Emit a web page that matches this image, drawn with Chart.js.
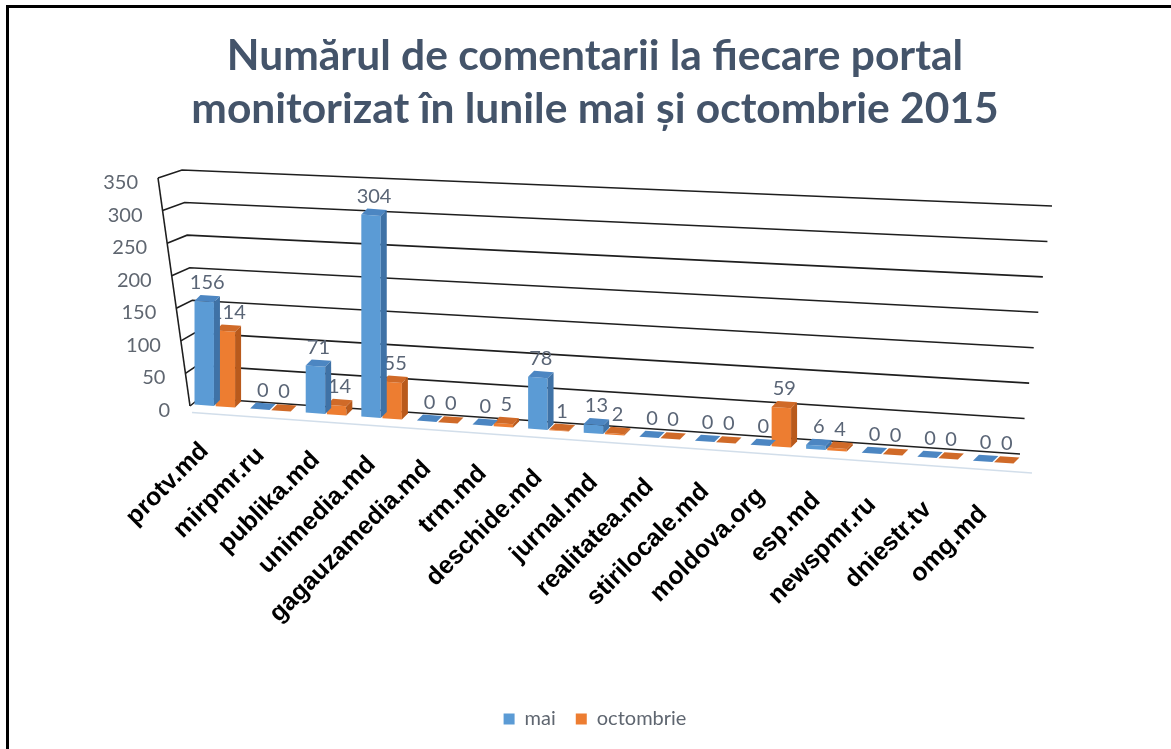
<!DOCTYPE html>
<html><head><meta charset="utf-8">
<script src="https://cdn.jsdelivr.net/npm/chart.js@4.4.0/dist/chart.umd.min.js"></script>
<style>
html,body{margin:0;padding:0;background:#fff;}
#wrap{position:relative;width:1171px;height:749px;overflow:hidden;background:#fff;}
#frame{position:absolute;left:6px;top:5px;right:-10px;bottom:-10px;border-top:3px solid #000;border-left:3px solid #000;pointer-events:none;}
canvas{display:block;}
</style></head><body>
<div id="wrap"><canvas id="c" width="1171" height="749"></canvas><div id="frame"></div></div>
<script>
// ---- data ----
const categories = ['protv.md','mirpmr.ru','publika.md','unimedia.md','gagauzamedia.md','trm.md','deschide.md','jurnal.md','realitatea.md','stirilocale.md','moldova.org','esp.md','newspmr.ru','dniestr.tv','omg.md'];
const maiValues = [156,0,71,304,0,0,78,13,0,0,0,6,0,0,0];
const octValues = [114,0,14,55,0,5,1,2,0,0,59,4,0,0,0];
const seriesNames = ['mai','octombrie'];
const yTicks = [0,50,100,150,200,250,300,350];
const titleLines = ['Numărul de comentarii la fiecare portal','monitorizat în lunile mai și octombrie 2015'];

// ---- styles ----
const frontColors = ['#5B9BD5','#ED7D31'];
const sideColors = ['#3F72A6','#B95A1C'];
const topColors = ['#4C86C2','#D06A28'];
const textGray = '#5f6670';
const G = {k:0.072, s:1.02, bx0:200, by0:405, dx:6, dy:-6};
const yMax = yTicks[yTicks.length-1];

function mapY(chart, x, y){
  const y0 = chart.scales.y.getPixelForValue(0);
  return G.by0 + G.k*(x-G.bx0) + G.s*(y-y0);
}

const scene = {
  id:'scene',
  beforeDatasetsDraw(chart){
    const ctx = chart.ctx, ys = chart.scales.y, xs = chart.scales.x;
    ctx.save();
    const y0 = ys.getPixelForValue(0);
    ctx.strokeStyle = 'rgba(205,218,232,0.9)'; ctx.lineWidth = 1.5;
    ctx.beginPath();
    ctx.moveTo(192, mapY(chart,192,y0)+8);
    ctx.lineTo(1032, mapY(chart,1032,y0)+8);
    ctx.stroke();
    ctx.strokeStyle = '#1e1e1e'; ctx.lineWidth = 1.6;
    ctx.font = '20px Lato'; ctx.fillStyle = textGray;
    ctx.textAlign = 'right'; ctx.textBaseline = 'middle';
    yTicks.forEach(v=>{
      const t = v/yMax, yl = ys.getPixelForValue(v);
      const ex = 190-32*t, ey = yl+8, cx = 200-18*t, rx = 1020+32*t, ry = 454-248*t;
      ctx.beginPath(); ctx.moveTo(ex,ey); ctx.lineTo(cx,yl); ctx.lineTo(rx,ry); ctx.stroke();
      ctx.fillText(String(v), 170-32*t, yl+12.5);
    });
    const yt = ys.getPixelForValue(yMax);
    ctx.beginPath(); ctx.moveTo(158, yt+8); ctx.lineTo(190, y0+8); ctx.stroke();
    ctx.font = 'bold 25px "Liberation Sans"'; ctx.fillStyle = '#000';
    categories.forEach((c,i)=>{
      const cx = xs.getPixelForValue(i);
      ctx.save();
      ctx.translate(cx-10, 447 + 0.081*(cx-215));
      ctx.rotate(-Math.PI/4);
      ctx.textAlign='right'; ctx.textBaseline='middle';
      ctx.fillText(c, 0, 0);
      ctx.restore();
    });
    ctx.font = '20px Lato'; ctx.fillStyle = '#5a6576'; ctx.textAlign='center'; ctx.textBaseline='middle';
    chart.data.datasets.forEach((ds,di)=>{
      chart.getDatasetMeta(di).data.forEach((el,j)=>{
        const top = Math.min(el.y, el.base);
        const yy = mapY(chart, el.x, top) + G.dy - 13;
        ctx.fillText(String(ds.data[j]), el.x+3, yy);
      });
    });
    ctx.restore();
  },
  beforeDatasetDraw(chart,args){
    const ctx = chart.ctx, y0 = chart.scales.y.getPixelForValue(0);
    ctx.save();
    ctx.transform(1, G.k, 0, G.s, 0, G.by0 - G.k*G.bx0 - G.s*y0);
  },
  afterDatasetDraw(chart,args){
    const ctx = chart.ctx;
    ctx.restore();
    ctx.save();
    const di = args.index;
    args.meta.data.forEach(el=>{
      const l = el.x - el.width/2, r = el.x + el.width/2;
      const top = Math.min(el.y, el.base), bot = el.base;
      const ylt = mapY(chart,l,top), yrt = mapY(chart,r,top), yrb = mapY(chart,r,bot);
      ctx.fillStyle = sideColors[di];
      ctx.beginPath(); ctx.moveTo(r,yrt); ctx.lineTo(r+G.dx,yrt+G.dy); ctx.lineTo(r+G.dx,yrb+G.dy); ctx.lineTo(r,yrb); ctx.closePath(); ctx.fill();
      ctx.fillStyle = topColors[di];
      ctx.beginPath(); ctx.moveTo(l,ylt); ctx.lineTo(r,yrt); ctx.lineTo(r+G.dx,yrt+G.dy); ctx.lineTo(l+G.dx,ylt+G.dy); ctx.closePath(); ctx.fill();
    });
    ctx.restore();
  }
};

new Chart(document.getElementById('c'), {
  type:'bar',
  data:{
    labels: categories,
    datasets:[
      {label: seriesNames[0], data: maiValues, backgroundColor: frontColors[0], clip:false, categoryPercentage:0.76, barPercentage:0.92, yAxisID:'y'},
      {label: seriesNames[1], data: octValues, backgroundColor: frontColors[1], clip:false, categoryPercentage:0.76, barPercentage:0.92, yAxisID:'y'}
    ]
  },
  options:{
    responsive:false, animation:false,
    layout:{padding:{left:19,right:0,top:0,bottom:10}},
    scales:{
      x:{display:true, grid:{display:false}, border:{display:false}, ticks:{display:false}, afterFit(s){s.height=291;}},
      y:{min:0, max:yMax, display:true, ticks:{display:false, stepSize:50}, grid:{display:false}, border:{display:false}, afterFit(s){s.width=168;}},
      y2:{position:'right', display:true, ticks:{display:false}, grid:{display:false}, border:{display:false}, afterFit(s){s.width=150;}}
    },
    plugins:{
      title:{display:true, text:titleLines, color:'#44546A', font:{family:'Lato', size:42.5, weight:'bold', lineHeight:1.247}, padding:{top:30,bottom:34}},
      legend:{display:true, position:'bottom', labels:{boxWidth:11, boxHeight:11, padding:20, color:textGray, font:{family:'Lato', size:20}}},
      tooltip:{enabled:false}
    }
  },
  plugins:[scene]
});
</script>
</body></html>
